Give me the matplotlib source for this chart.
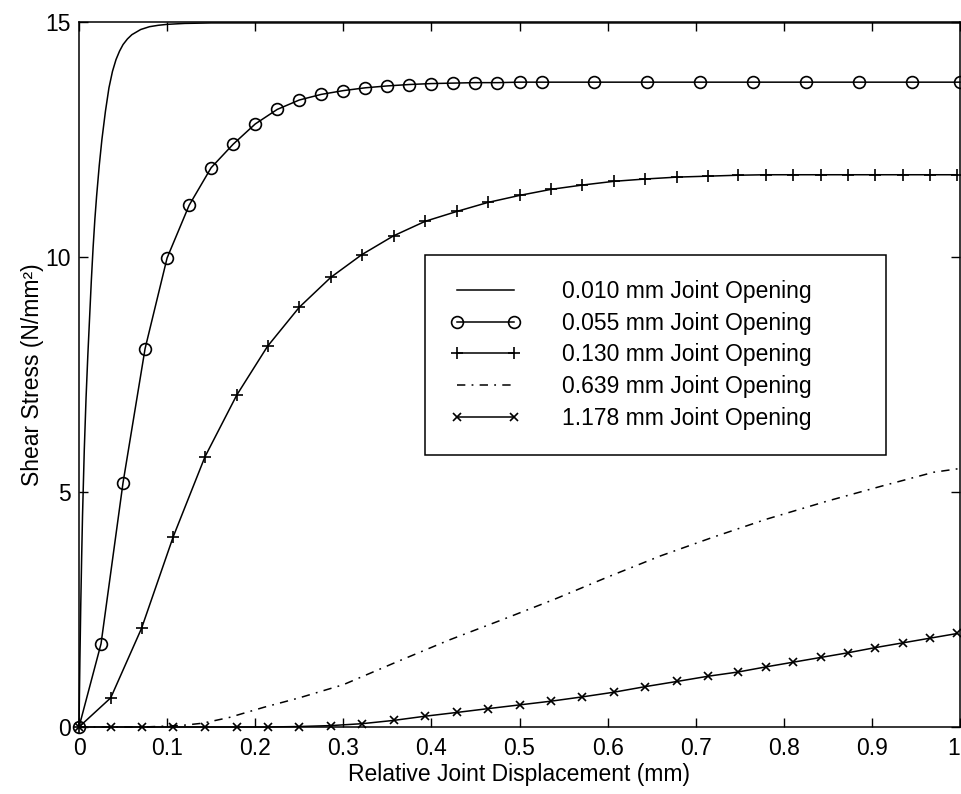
import matplotlib
matplotlib.use("Agg")
import matplotlib.pyplot as plt

plt.rcParams['font.family'] = ['Liberation Sans', 'DejaVu Sans']
plt.rcParams['lines.scale_dashes'] = False

# ---- data ----
disp_010 = [0, 0.001, 0.002, 0.003, 0.004, 0.005, 0.006, 0.008, 0.010, 0.012, 0.014,
            0.016, 0.018, 0.020, 0.023, 0.026, 0.030, 0.034, 0.038, 0.042, 0.046, 0.050,
            0.055, 0.060, 0.070, 0.080, 0.090, 0.100, 0.120, 0.150, 0.200, 0.300, 0.500,
            0.700, 1.000]
stress_010 = [0, 1.4, 2.6, 3.6, 4.5, 5.2, 5.9, 7.0, 7.9, 8.7, 9.5,
              10.2, 10.8, 11.3, 11.95, 12.5, 13.1, 13.6, 13.95, 14.2, 14.38, 14.52,
              14.64, 14.73, 14.84, 14.9, 14.93, 14.95, 14.97, 14.98, 14.98, 14.98, 14.98,
              14.98, 14.98]

disp_055 = [0, 0.025, 0.05, 0.075, 0.1, 0.125, 0.15, 0.175, 0.2, 0.225, 0.25, 0.275,
            0.3, 0.325, 0.35, 0.375, 0.4, 0.425, 0.45, 0.475, 0.5, 0.525, 0.585, 0.645,
            0.705, 0.765, 0.825, 0.885, 0.945, 1.0]
stress_055 = [0, 1.77, 5.2, 8.05, 9.98, 11.1, 11.9, 12.4, 12.83, 13.14, 13.34, 13.46,
              13.54, 13.6, 13.64, 13.67, 13.69, 13.7, 13.71, 13.71, 13.72, 13.72, 13.72,
              13.72, 13.72, 13.72, 13.72, 13.72, 13.72, 13.72]

disp_130 = [0, 0.036, 0.071, 0.107, 0.143, 0.179, 0.214, 0.25, 0.286, 0.321, 0.357,
            0.393, 0.429, 0.464, 0.5, 0.536, 0.571, 0.607, 0.643, 0.679, 0.714, 0.748,
            0.78, 0.811, 0.842, 0.873, 0.904, 0.935, 0.966, 0.997]
stress_130 = [0, 0.62, 2.1, 4.05, 5.75, 7.06, 8.1, 8.93, 9.57, 10.05, 10.45,
              10.76, 10.97, 11.16, 11.31, 11.44, 11.53, 11.61, 11.66, 11.7, 11.72, 11.74,
              11.75, 11.75, 11.75, 11.75, 11.75, 11.75, 11.75, 11.75]

disp_639 = [0, 0.05, 0.08, 0.1, 0.12, 0.14, 0.17, 0.21, 0.25, 0.3, 0.36, 0.42, 0.48,
            0.54, 0.6, 0.66, 0.72, 0.78, 0.85, 0.91, 0.97, 1.0]
stress_639 = [0, 0, 0.005, 0.02, 0.04, 0.08, 0.2, 0.42, 0.62, 0.9, 1.38, 1.85, 2.28,
              2.72, 3.19, 3.64, 4.04, 4.42, 4.81, 5.12, 5.42, 5.5]

disp_1178 = [0, 0.036, 0.071, 0.107, 0.143, 0.179, 0.214, 0.25, 0.286, 0.321, 0.357,
             0.393, 0.429, 0.464, 0.5, 0.536, 0.571, 0.607, 0.643, 0.679, 0.714, 0.748,
             0.78, 0.811, 0.842, 0.873, 0.904, 0.935, 0.966, 0.997]
stress_1178 = [0, 0, 0, 0, 0, 0, 0, 0.01, 0.03, 0.07, 0.14,
               0.23, 0.31, 0.39, 0.47, 0.55, 0.64, 0.74, 0.86, 0.97, 1.08, 1.17,
               1.28, 1.38, 1.48, 1.58, 1.69, 1.79, 1.89, 1.99]

labels = ['0.010 mm Joint Opening', '0.055 mm Joint Opening', '0.130 mm Joint Opening',
          '0.639 mm Joint Opening', '1.178 mm Joint Opening']

x_ticks = [0, 0.1, 0.2, 0.3, 0.4, 0.5, 0.6, 0.7, 0.8, 0.9, 1.0]
x_ticklabels = ['0', '0.1', '0.2', '0.3', '0.4', '0.5', '0.6', '0.7', '0.8', '0.9', '1']
y_ticks = [0, 5, 10, 15]
y_ticklabels = ['0', '5', '10', '15']

# ---- figure ----
W, H = 962, 794
fig = plt.figure(figsize=(W / 100, H / 100), dpi=100)
ax = fig.add_axes([79 / W, 1 - 727 / H, 881 / W, 705 / H])

lw = 1.1
ax.plot(disp_010, stress_010, '-', color='black', lw=lw, label=labels[0], clip_on=False)
ax.plot(disp_055, stress_055, '-o', color='black', lw=lw, ms=8.5, mfc='none', mec='black',
        mew=1.2, label=labels[1], clip_on=False)
ax.plot(disp_130, stress_130, '-+', color='black', lw=lw, ms=8, mew=1.2,
        label=labels[2], clip_on=False)
ax.plot(disp_639, stress_639, color='black', lw=lw, linestyle=(0, (6, 4.5, 1.3, 4.5)),
        label=labels[3], clip_on=False)
ax.plot(disp_1178, stress_1178, '-x', color='black', lw=lw, ms=6, mew=1.2,
        label=labels[4], clip_on=False)

ax.set_xlim(0, 1)
ax.set_ylim(0, 15)
ax.set_xticks(x_ticks)
ax.set_xticklabels(x_ticklabels)
ax.set_yticks(y_ticks)
ax.set_yticklabels(y_ticklabels)

fs = 16.5
ax.tick_params(direction='in', length=6.5, width=1.0, top=True, right=True,
               labelsize=fs, colors='black')
ax.tick_params(axis='x', pad=7)
ax.tick_params(axis='y', pad=6)
# keep the last x tick label inside the figure edge
ax.get_xticklabels()[-1].set_horizontalalignment('right')
for s in ax.spines.values():
    s.set_linewidth(1.1)
    s.set_color('black')

ax.set_xlabel('Relative Joint Displacement (mm)', fontsize=fs, labelpad=2)
ax.set_ylabel('Shear Stress (N/mm²)', fontsize=fs, labelpad=1)

# legend box from (425,258) to (886,452) px
x0 = (425 - 79) / 881
x1 = (886 - 79) / 881
y0 = (727 - 452) / 705
y1 = (727 - 258) / 705
leg = ax.legend(loc='center', bbox_to_anchor=(x0, y0, x1 - x0, y1 - y0), mode='expand',
                fontsize=fs, numpoints=2, handlelength=3.1, handletextpad=1.8,
                labelspacing=0.38, borderpad=1.1, borderaxespad=0.0,
                fancybox=False, framealpha=1, edgecolor='black')
leg.get_frame().set_linewidth(1.1)

fig.savefig('out.png', dpi=100, facecolor='white')
